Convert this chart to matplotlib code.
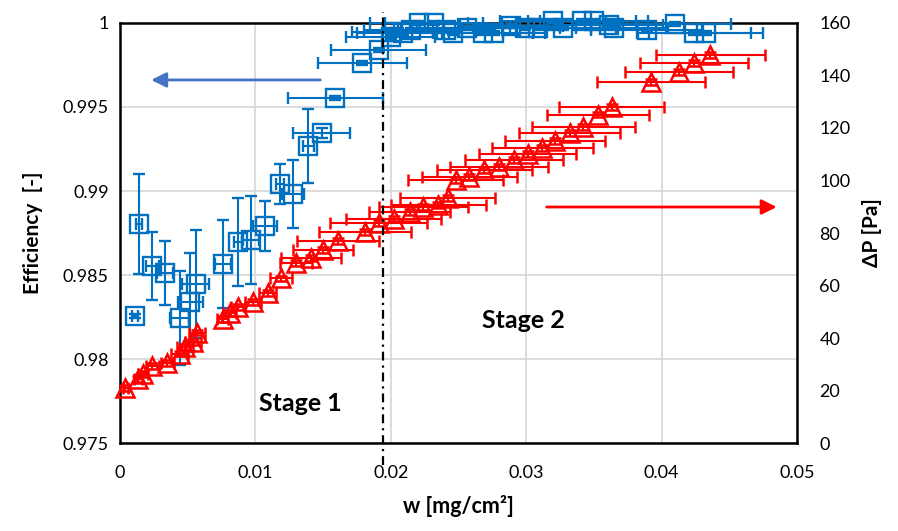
import matplotlib
matplotlib.use("Agg")
import matplotlib.pyplot as plt

plt.rcParams['font.family'] = ['Lato', 'DejaVu Sans']

# efficiency series (left axis)
w_eff = [0.0011, 0.0014, 0.0024, 0.0033, 0.0044, 0.0052, 0.0056, 0.0076, 0.0087, 0.0097,
         0.0107, 0.0118, 0.0128, 0.0139, 0.0149, 0.0159, 0.0179, 0.0191, 0.0200, 0.0201,
         0.0209, 0.0215, 0.0221, 0.0232, 0.0241, 0.0246, 0.0256, 0.0268, 0.0276, 0.0289,
         0.0299, 0.0309, 0.0320, 0.0327, 0.0341, 0.0350, 0.0361, 0.0365, 0.0389, 0.0410,
         0.0424, 0.0433]
eff = [0.98256, 0.98804, 0.98554, 0.98512, 0.98244, 0.98339, 0.98446, 0.98565, 0.98696, 0.98708,
       0.98792, 0.99042, 0.98982, 0.99268, 0.99345, 0.99554, 0.99762, 0.99839, 0.99917, 0.99946,
       0.99940, 0.99960, 1.00000, 1.00000, 0.99958, 0.99940, 0.99970, 0.99940, 0.99940, 0.99982,
       0.99970, 0.99970, 1.00012, 0.99970, 1.00012, 1.00012, 0.99988, 0.99970, 0.99958, 0.99994,
       0.99940, 0.99940]
eff_yerr = [0.0001, 0.0030, 0.0020, 0.0019, 0.0028, 0.0029, 0.0032, 0.0026, 0.0026, 0.0026,
            0.0015, 0.0012, 0.0020, 0.0022, 0.0003, 0.0001] + [0.0001] * 26
eff_xerr = [0.0002, 0.0002, 0.0005, 0.0006, 0.0007, 0.0009, 0.0010, 0.0006, 0.0003, 0.0006,
            0.0009, 0.0003, 0.0008, 0.0004, 0.0021, 0.0035, 0.0033, 0.0035, 0.0033, 0.0030,
            0.0034, 0.0035, 0.0036, 0.0036, 0.0036, 0.0037, 0.0037, 0.0037, 0.0038, 0.0038,
            0.0038, 0.0039, 0.0039, 0.0039, 0.0040, 0.0040, 0.0040, 0.0040, 0.0041, 0.0041,
            0.0042, 0.0042]

# pressure drop series (right axis)
w_dp = [0.0004, 0.0013, 0.0017, 0.0024, 0.0035, 0.0044, 0.0048, 0.0054, 0.0057, 0.0076,
        0.0081, 0.0087, 0.0098, 0.0109, 0.0119, 0.0130, 0.0141, 0.0150, 0.0161, 0.0181,
        0.0191, 0.0202, 0.0214, 0.0224, 0.0235, 0.0242, 0.0248, 0.0258, 0.0269, 0.0280,
        0.0291, 0.0301, 0.0312, 0.0321, 0.0332, 0.0342, 0.0353, 0.0363, 0.0392, 0.0413,
        0.0424, 0.0436]
dp = [21.0, 24.4, 26.3, 29.3, 30.5, 34.0, 36.6, 38.5, 42.0, 47.2,
      49.5, 51.8, 53.7, 57.1, 62.8, 68.6, 70.5, 73.5, 77.0, 80.4,
      83.8, 85.5, 88.0, 89.9, 90.7, 93.3, 100.2, 101.3, 104.0, 105.1,
      107.8, 110.1, 112.4, 115.0, 118.1, 120.4, 125.0, 128.0, 137.5, 141.3,
      144.8, 147.8]
dp_xerr = [0.0002, 0.0003, 0.0004, 0.0005, 0.0005, 0.0006, 0.0006, 0.0006, 0.0006, 0.0004,
           0.0005, 0.0005, 0.0006, 0.0006, 0.0008, 0.0012, 0.0022, 0.0022, 0.0030, 0.0034,
           0.0036, 0.0035, 0.0030, 0.0033, 0.0035, 0.0035, 0.0035, 0.0035, 0.0035, 0.0036,
           0.0036, 0.0036, 0.0037, 0.0037, 0.0037, 0.0038, 0.0038, 0.0039, 0.0040, 0.0040,
           0.0040, 0.0040]
dp_yerr = [1.0] * len(dp)

x_ticks = [0, 0.01, 0.02, 0.03, 0.04, 0.05]
x_labels = ['0', '0.01', '0.02', '0.03', '0.04', '0.05']
eff_ticks = [0.975, 0.98, 0.985, 0.99, 0.995, 1.0]
eff_labels = ['0.975', '0.98', '0.985', '0.99', '0.995', '1']
dp_ticks = [0, 20, 40, 60, 80, 100, 120, 140, 160]

stage_split = 0.0194

blue = '#0070C0'
red = '#FF0000'

fig = plt.figure(figsize=(8.98, 5.31), dpi=100)
ax1 = fig.add_axes([0.1336, 0.1657, 0.754, 0.791])
ax2 = ax1.twinx()

ax1.errorbar(w_eff, eff, yerr=eff_yerr, xerr=eff_xerr, fmt='s', ms=12.5,
             mfc='none', mec=blue, mew=1.7, ecolor=blue, elinewidth=1.5,
             capsize=4.3, capthick=1.5, clip_on=False, zorder=3)

ax2.errorbar(w_dp, dp, yerr=dp_yerr, xerr=dp_xerr, fmt='^', ms=13,
             mfc='none', mec=red, mew=1.8, ecolor=red, elinewidth=1.5,
             capsize=4.3, capthick=1.5, clip_on=False, zorder=3)

ax1.set_xlim(0, 0.05)
ax1.set_ylim(0.975, 1.0)
ax2.set_ylim(0, 160)
ax1.set_xticks(x_ticks)
ax1.set_xticklabels(x_labels)
ax1.set_yticks(eff_ticks)
ax1.set_yticklabels(eff_labels)
ax2.set_yticks(dp_ticks)

ax1.grid(True, color='#D9D9D9', lw=1.3)
ax1.set_axisbelow(True)
for s in ax1.spines.values():
    s.set_linewidth(1.8)
    s.set_color('black')
for s in ax2.spines.values():
    s.set_visible(False)

ax1.tick_params(axis='both', length=0, labelsize=13)
ax1.tick_params(axis='y', pad=8)
ax1.tick_params(axis='x', pad=16)
ax2.tick_params(axis='y', length=0, labelsize=13, pad=16)

ax1.set_xlabel('w [mg/cm²]', fontsize=15.5, fontweight='bold', labelpad=10)
ax1.set_ylabel('Efficiency  [-]', fontsize=15, fontweight='bold', labelpad=14)
ax2.set_ylabel('ΔP [Pa]', fontsize=15, fontweight='bold', labelpad=8)

# stage boundary
ax2.plot([stage_split, stage_split], [-8.4, 164.2], color='black', lw=1.6,
         linestyle=(0, (4, 2.2, 1, 2.2)), clip_on=False, zorder=5)

# arrows pointing to the axes
ax1.annotate('', xy=(0.0021, 0.99661), xytext=(0.0150, 0.99661),
             arrowprops=dict(arrowstyle='-|>,head_length=0.9,head_width=0.45',
                             color='#4472C4', lw=2))
ax2.annotate('', xy=(0.0487, 89.9), xytext=(0.0313, 89.9),
             arrowprops=dict(arrowstyle='-|>,head_length=0.9,head_width=0.45',
                             color=red, lw=2))

ax1.text(0.0133, 0.97738, 'Stage 1', fontsize=18, fontweight='bold', ha='center', va='center')
ax1.text(0.0298, 0.98232, 'Stage 2', fontsize=18, fontweight='bold', ha='center', va='center')

fig.savefig('out.png', dpi=100)
